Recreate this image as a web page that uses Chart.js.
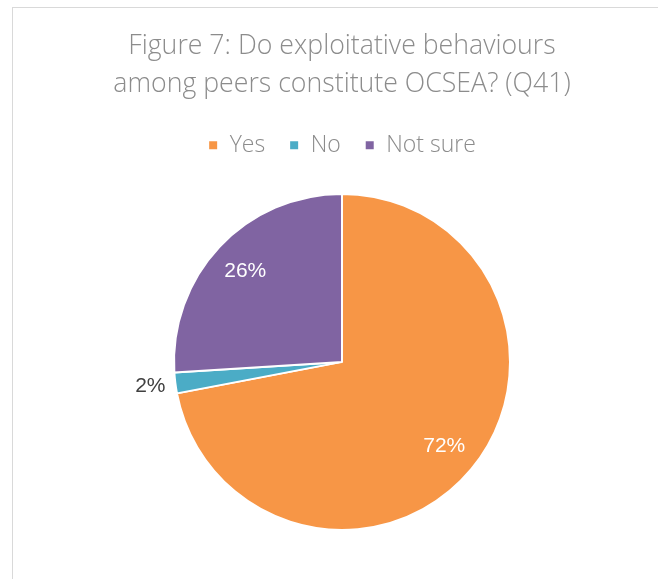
<!DOCTYPE html>
<html>
<head>
<meta charset="utf-8">
<script src="https://cdn.jsdelivr.net/npm/chart.js@4"></script>
<style>
  html, body { margin: 0; padding: 0; background: #fff; overflow: hidden; }
  #frame {
    position: absolute; left: 12px; top: 7px; width: 700px; height: 640px;
    border: 1px solid #d9d9d9; box-sizing: border-box;
  }
  #wrap { position: absolute; left: 12px; top: 7px; width: 660px; height: 572px; }
</style>
</head>
<body>
<div id="frame"></div>
<div id="wrap"><canvas id="chart"></canvas></div>
<script>
const titleLines = ["Figure 7: Do exploitative behaviours", "among peers constitute OCSEA? (Q41)"];
const categories = ["Yes", "No", "Not sure"];
const shares = [72, 2, 26];
const sliceColors = ["#F79646", "#4BACC6", "#8064A2"];

// percentage labels: inside for big slices, outside for small ones
const sliceLabels = {
  id: "sliceLabels",
  afterDatasetsDraw(chart) {
    const { ctx } = chart;
    const meta = chart.getDatasetMeta(0);
    ctx.save();
    ctx.font = "21px 'Liberation Sans', Arial, sans-serif";
    ctx.textAlign = "center";
    ctx.textBaseline = "middle";
    meta.data.forEach((arc, i) => {
      const value = shares[i];
      const mid = (arc.startAngle + arc.endAngle) / 2;
      const outside = value < 5;
      const r = arc.outerRadius * (outside ? 1.15 : 0.79);
      ctx.fillStyle = outside ? "#404040" : "#ffffff";
      ctx.fillText(value + "%", arc.x + Math.cos(mid) * r, arc.y + Math.sin(mid) * r);
    });
    ctx.restore();
  },
};

new Chart(document.getElementById("chart"), {
  type: "pie",
  data: {
    labels: categories,
    datasets: [
      {
        data: shares,
        backgroundColor: sliceColors,
        borderColor: "#ffffff",
        borderWidth: 2,
        radius: 168,
      },
    ],
  },
  options: {
    responsive: true,
    maintainAspectRatio: false,
    animation: false,
    layout: { padding: { top: 0, bottom: 22, left: 0, right: 0 } },
    plugins: {
      title: {
        display: true,
        text: titleLines,
        color: "#8c8c8c",
        font: { family: "'Open Sans', sans-serif", size: 26.7, weight: 300, lineHeight: 1.4 },
        padding: { top: 21, bottom: 7 },
      },
      legend: {
        position: "top",
        labels: {
          color: "#8c8c8c",
          boxWidth: 10,
          boxHeight: 10,
          padding: 24,
          font: { family: "'Open Sans', sans-serif", size: 23, weight: 300 },
        },
      },
      tooltip: { enabled: false },
    },
  },
  plugins: [sliceLabels],
});
</script>
</body>
</html>
